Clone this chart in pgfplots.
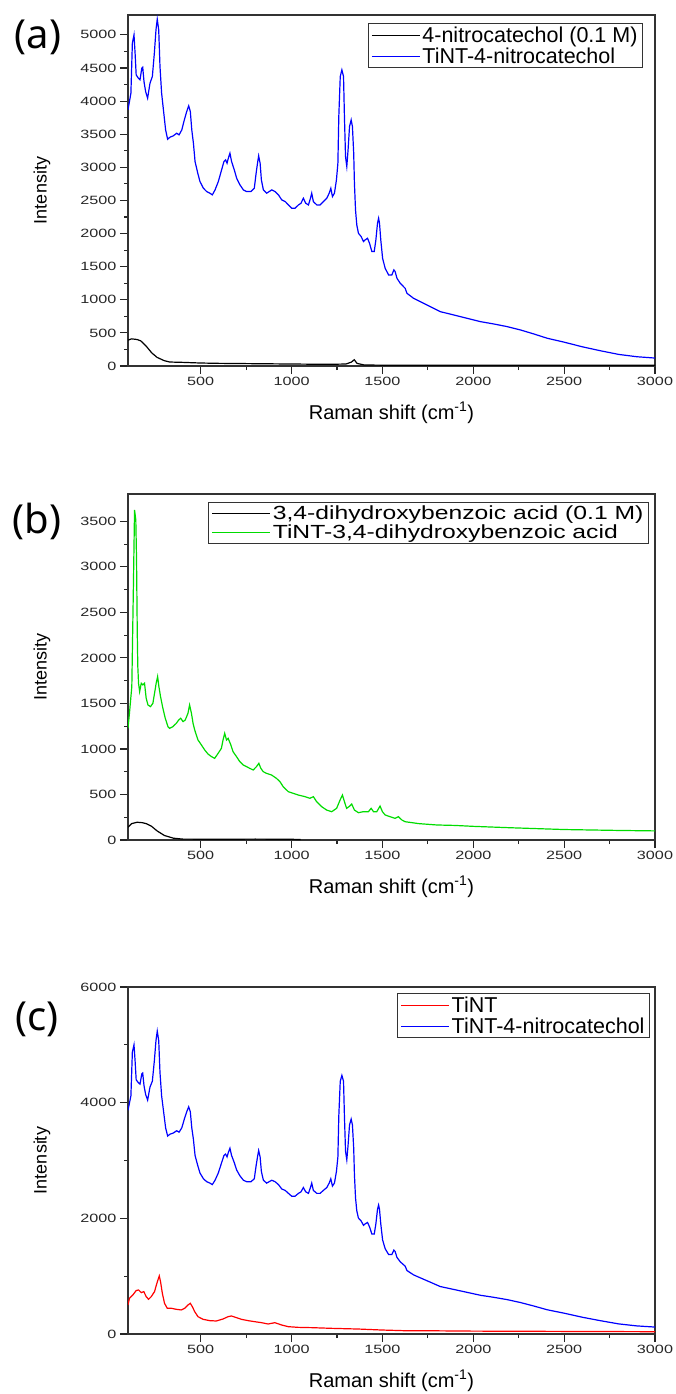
\documentclass[border=0pt]{standalone}
\usepackage{fontspec}
\setmainfont{Liberation Sans}
\newfontfamily\tickfont[FakeStretch=1.35]{Liberation Sans}
\newfontfamily\legbfont[FakeStretch=1.3]{Liberation Sans}
\newfontfamily\panelfont{Noto Sans}
\usepackage{pgfplots}
\usepackage{pgfplotstable}
\pgfplotsset{compat=1.18}

\definecolor{tgreen}{RGB}{0,220,0}

\pgfplotstableread{
x y
100 3868
116 4119
124 4874
133 5000
139 4723
145 4396
157 4346
166 4321
176 4497
181 4512
188 4295
197 4144
208 4044
221 4270
234 4371
245 4723
254 5076
261 5237
269 5076
276 4522
285 4119
298 3792
307 3565
318 3424
331 3455
349 3475
368 3515
381 3490
396 3565
410 3716
423 3842
434 3928
443 3842
451 3565
460 3364
469 3087
484 2911
496 2785
515 2684
533 2634
551 2609
564 2584
579 2659
597 2785
615 2961
628 3087
637 3112
645 3062
652 3137
661 3213
670 3087
685 2961
698 2835
716 2735
735 2659
753 2634
777 2634
795 2684
805 2911
814 3087
819 3173
827 3062
834 2810
845 2659
863 2609
891 2659
909 2634
928 2584
946 2508
965 2483
983 2432
1001 2382
1019 2382
1038 2432
1052 2458
1065 2533
1078 2458
1093 2432
1104 2533
1111 2609
1120 2483
1139 2432
1157 2432
1175 2483
1194 2533
1207 2609
1216 2684
1225 2558
1236 2609
1247 2810
1255 3062
1260 3767
1268 4371
1277 4472
1286 4371
1291 3767
1297 3163
1304 3012
1311 3263
1319 3616
1328 3716
1335 3616
1342 3213
1346 2760
1352 2357
1359 2130
1368 2005
1383 1954
1396 1879
1405 1904
1418 1929
1429 1854
1442 1728
1455 1728
1464 1904
1473 2156
1479 2231
1484 2156
1491 1904
1501 1627
1515 1476
1534 1375
1552 1375
1563 1451
1570 1426
1580 1325
1598 1249
1625 1174
1635 1098
1671 1023
1708 972
1763 897
1818 821
1892 771
1965 721
2039 670
2112 635
2186 595
2260 544
2333 484
2407 419
2500 360
2600 290
2700 230
2800 175
2900 140
3000 120
}\bluedata

\pgfplotstableread{
x y
100 390
120 410
150 400
170 380
200 300
230 200
260 130
300 80
330 60
400 55
500 45
600 40
800 35
1000 30
1200 25
1300 30
1330 60
1345 95
1360 40
1400 15
1600 10
2000 10
3000 10
}\blackadata

\pgfplotstableread{
x y
100 1227
108 1392
121 1685
130 2820
136 3626
143 3516
147 3077
151 2271
154 1904
158 1721
164 1630
173 1721
182 1703
191 1721
200 1557
210 1483
224 1465
237 1502
246 1611
255 1721
263 1795
270 1685
279 1575
292 1447
305 1337
320 1245
329 1227
347 1245
366 1282
379 1318
390 1337
403 1300
415 1318
430 1392
439 1483
449 1392
458 1282
467 1209
485 1099
504 1044
522 989
540 945
559 916
577 897
596 952
614 1007
623 1099
632 1172
642 1099
651 1117
666 1044
678 970
697 916
715 861
734 824
752 806
770 787
789 769
807 806
820 842
831 787
844 751
862 732
890 714
917 677
936 641
954 586
982 531
1009 513
1037 494
1074 476
1101 458
1120 476
1138 421
1166 366
1193 329
1221 311
1248 348
1267 439
1280 494
1291 421
1303 348
1316 366
1331 395
1346 329
1368 300
1395 311
1423 311
1438 348
1451 311
1469 311
1487 373
1500 311
1515 275
1542 256
1570 238
1588 256
1607 220
1625 201
1700 180
1800 165
1900 160
2000 150
2200 135
2500 115
2800 105
3000 100
}\greendata

\pgfplotstableread{
x y
100 140
120 180
150 195
180 190
200 180
230 150
260 100
300 50
350 20
400 10
600 8
800 10
1000 8
1050 5
}\blackbdata

\pgfplotstableread{
x y
100 502
108 618
127 676
145 751
158 762
173 716
187 733
200 647
213 600
228 647
246 733
259 878
272 1005
279 907
289 704
301 531
316 445
338 445
366 427
393 416
412 445
430 502
443 531
454 473
467 387
485 300
513 254
550 231
586 225
623 260
651 300
669 312
697 283
724 254
761 231
798 213
835 196
871 173
908 196
945 156
982 127
1037 115
1110 110
1221 98
1368 86
1497 69
1625 57
1800 55
2000 50
2500 45
3000 40
}\reddata

\pgfplotsset{
  rs/.style={
    scale only axis, width=527pt,
    xmin=100, xmax=3000,
    xtick={500,1000,...,3000}, minor x tick num=1,
    tick align=outside, xtick pos=bottom, ytick pos=left,
    major tick length=8pt, minor tick length=4pt,
    every tick/.style={black!85, line width=1.1pt},
    axis line style={black!80, line width=1.3pt},
    tick label style={font=\tickfont\fontsize{12}{12}\selectfont, text=black!85},
    /pgf/number format/assume math mode=true,
    /pgf/number format/1000 sep={},
    scaled y ticks=false,
    xlabel={Raman shift (cm\textsuperscript{-1})},
    ylabel={Intensity},
    xlabel style={font=\fontsize{20}{20}\selectfont, at={(axis description cs:0.5,0)}, anchor=center, yshift=-47pt},
    every axis y label/.style={font=\fontsize{18}{18}\selectfont, at={(axis description cs:-0.1632,0.5)}, rotate=90, anchor=center},
    legend cell align=left,
    legend image code/.code={\draw[##1, line width=1pt] (0pt,0pt) -- (48pt,0pt);},
    legend style={draw=black!80, line width=1pt, fill=white,
      font=\fontsize{21.5}{23}\selectfont,
      at={(1,1)}, anchor=north east, inner xsep=3pt, inner ysep=1pt},
  },
}

\begin{document}
\begin{tikzpicture}
\path[use as bounding box] (0pt,0pt) rectangle (676pt,-1394pt);

% panel (a)
\begin{axis}[rs, height=351pt, at={(128pt,-15pt)}, anchor=north west,
  ymin=0, ymax=5300, ytick={0,500,...,5000}, minor y tick num=1,
  legend style={xshift=-12pt, yshift=-8pt}]
\addplot[black, line width=1.2pt] table {\blackadata};
\addlegendentry{4-nitrocatechol (0.1 M)}
\addplot[blue, line width=1.2pt] table {\bluedata};
\addlegendentry{TiNT-4-nitrocatechol}
\end{axis}

% panel (b)
\begin{axis}[rs, height=346pt, at={(128pt,-494pt)}, anchor=north west,
  ymin=0, ymax=3800, ytick={0,500,...,3500}, minor y tick num=1,
  legend image code/.code={\draw[#1, line width=1pt] (0pt,0pt) -- (58pt,0pt);},
  legend style={xshift=-6pt, yshift=-8pt, font=\legbfont\fontsize{19}{25}\selectfont}]
\addplot[black, line width=1.2pt] table {\blackbdata};
\addlegendentry{3,4-dihydroxybenzoic acid (0.1 M)}
\addplot[tgreen, line width=1.2pt] table {\greendata};
\addlegendentry{TiNT-3,4-dihydroxybenzoic acid}
\end{axis}

% panel (c)
\begin{axis}[rs, height=347pt, at={(128pt,-987pt)}, anchor=north west,
  ymin=0, ymax=6000, ytick={0,2000,4000,6000}, minor y tick num=1,
  legend style={xshift=-5pt, yshift=-6pt}]
\addplot[red, line width=1.2pt] table {\reddata};
\addlegendentry{TiNT}
\addplot[blue, line width=1.2pt] table {\bluedata};
\addlegendentry{TiNT-4-nitrocatechol}
\end{axis}

\node[font=\panelfont\fontsize{40}{40}\selectfont] at (38pt,-37pt) {(a)};
\node[font=\panelfont\fontsize{40}{40}\selectfont] at (37pt,-521pt) {(b)};
\node[font=\panelfont\fontsize{40}{40}\selectfont] at (37pt,-1019pt) {(c)};
\end{tikzpicture}
\end{document}
